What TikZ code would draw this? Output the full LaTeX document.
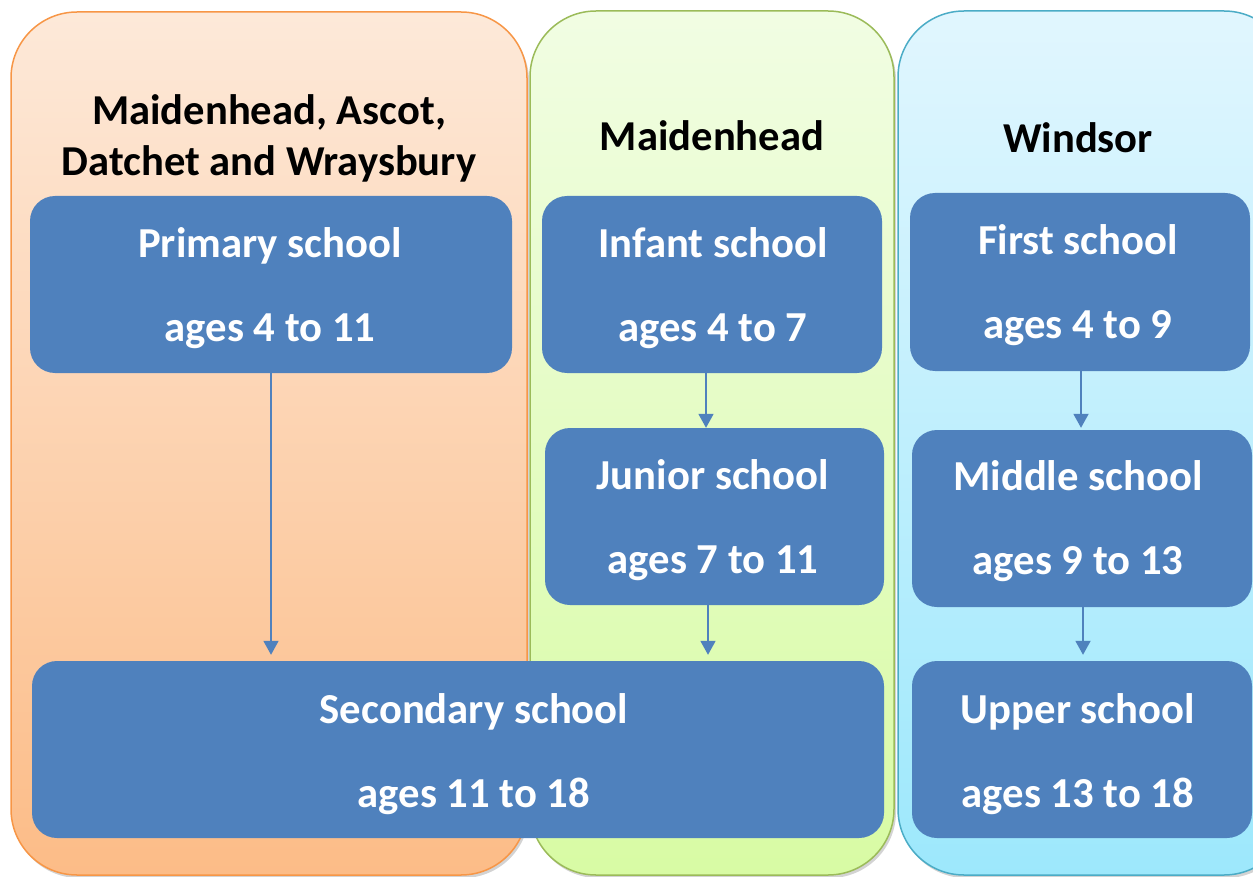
\documentclass[tikz,border=0pt]{standalone}
\usepackage{fontspec}
\setmainfont{Carlito}
\usetikzlibrary{arrows.meta,shadows}
\definecolor{orgtop}{HTML}{FDE9D9}
\definecolor{orgbot}{HTML}{FCBC87}
\definecolor{orgline}{HTML}{F79646}
\definecolor{grntop}{HTML}{F1FDE3}
\definecolor{grnbot}{HTML}{D8FBA4}
\definecolor{grnline}{HTML}{9BBB59}
\definecolor{blutop}{HTML}{E1F6FE}
\definecolor{blubot}{HTML}{9DE8FC}
\definecolor{bluline}{HTML}{4BACC6}
\definecolor{boxfill}{HTML}{4F81BD}
\tikzset{
  panel/.style={draw, line width=1.5pt, rounded corners=66pt, drop shadow={opacity=0.35, shadow xshift=2pt, shadow yshift=-3pt}},
  schoolbox/.style={fill=boxfill, draw=none, rounded corners=25pt, inner sep=0pt},
  boxtext/.style={text=white, align=center, font=\fontsize{42.7}{84}\selectfont\bfseries, inner sep=0pt},
  title/.style={text=black, align=center, font=\fontsize{42.6}{51}\selectfont\bfseries, inner sep=0pt},
  flow/.style={draw=boxfill, line width=1.8pt, -{Triangle[width=15pt,length=14pt]}}
}
\begin{document}
\begin{tikzpicture}[x=1pt,y=-1pt]
\useasboundingbox (0,0) rectangle (1253,877);
% panels
\path[panel, draw=orgline, top color=orgtop, bottom color=orgbot] (11,12) rectangle (527,875);
\path[panel, draw=grnline, top color=grntop, bottom color=grnbot] (530,11) rectangle (894,875);
\path[panel, draw=bluline, top color=blutop, bottom color=blubot] (898,11) rectangle (1290,875);
% titles
\node[title] (t1) at (269,138) {Maidenhead, Ascot,\\Datchet and Wraysbury};
\node[title] (t2) at (712,136) {Maidenhead};
\node[title] (t3) at (1078,138) {Windsor};
% boxes
\node[schoolbox, minimum width=482pt, minimum height=177pt] (prim) at (271,284.5) {};
\node[schoolbox, minimum width=340pt, minimum height=177pt] (inf) at (712,284.5) {};
\node[schoolbox, minimum width=339pt, minimum height=177pt] (jun) at (714.5,516.5) {};
\node[schoolbox, minimum width=340pt, minimum height=178pt] (first) at (1080,282) {};
\node[schoolbox, minimum width=340pt, minimum height=177pt] (mid) at (1082,518.5) {};
\node[schoolbox, minimum width=852pt, minimum height=177pt] (sec) at (458,749.5) {};
\node[schoolbox, minimum width=340pt, minimum height=177pt] (up) at (1082,749.5) {};
% box texts
\node[boxtext] (primtext) at (270,288) {Primary school\\ages 4 to 11};
\node[boxtext] (inftext) at (713,288) {Infant school\\ages 4 to 7};
\node[boxtext] (juntext) at (713,520) {Junior school\\ages 7 to 11};
\node[boxtext] (firsttext) at (1078,285) {First school\\ages 4 to 9};
\node[boxtext] (midtext) at (1078,521.5) {Middle school\\ages 9 to 13};
\node[boxtext] (sectext) at (474,754) {Secondary school\\ages 11 to 18};
\node[boxtext] (uptext) at (1078,754) {Upper school\\ages 13 to 18};
% arrows
\draw[flow, shorten >=6pt] (prim.south) -- (prim.south |- sec.north);
\draw[flow] ([xshift=-6pt]inf.south) -- ([xshift=-6pt]inf.south |- jun.north);
\draw[flow, shorten >=6pt] ([xshift=-6.5pt]jun.south) -- ([xshift=-6.5pt]jun.south |- sec.north);
\draw[flow, shorten >=2pt] ([xshift=1pt]first.south) -- ([xshift=1pt]first.south |- mid.north);
\draw[flow, shorten >=6pt] ([xshift=1pt]mid.south) -- ([xshift=1pt]mid.south |- up.north);
\end{tikzpicture}
\end{document}
